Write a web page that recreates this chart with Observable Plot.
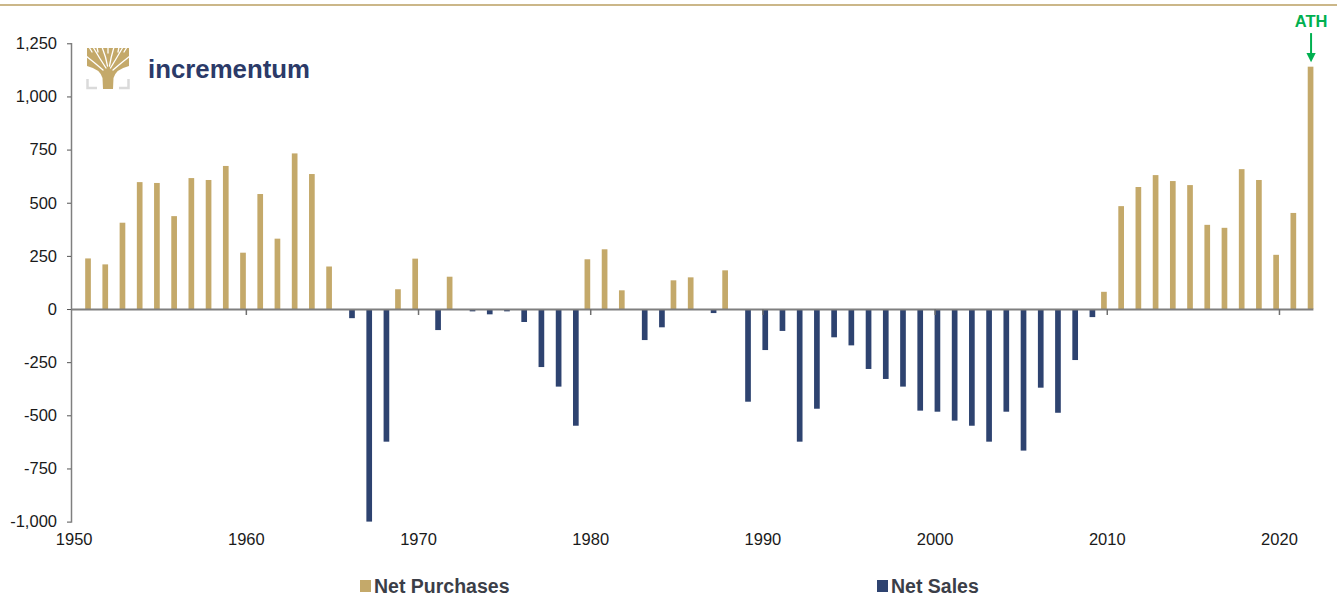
<!DOCTYPE html>
<html>
<head>
<meta charset="utf-8">
<script src="https://cdn.jsdelivr.net/npm/d3@7"></script>
<script src="https://cdn.jsdelivr.net/npm/@observablehq/plot@0.6"></script>
<style>
  html, body { margin: 0; padding: 0; background: #fff; }
  #wrap { position: relative; width: 1337px; height: 597px; overflow: hidden; font-family: "Liberation Sans", Arial, sans-serif; }
  #topline { position: absolute; left: 0; top: 4px; width: 1337px; height: 1.5px; background: #cbb789; }
  #chart { position: absolute; left: 0; top: 0; }
  #logo { position: absolute; left: 0; top: 0; }
  .leg { position: absolute; top: 575px; height: 22px; display: flex; align-items: center; font-weight: bold; font-size: 19.5px; color: #3b3e48; }
  .sw { width: 11px; height: 12px; margin-right: 3px; }
</style>
</head>
<body>
<div id="wrap">
  <div id="topline"></div>
  <div id="chart"></div>
  <svg id="logo" width="330" height="100">
    <path fill="#c4a96a" d="M87,48 L129,48 L129,66 Q116,69 113.5,78 L113,89 L103,89 L102.5,78 Q100,69 87,66 Z"/>
    <g fill="none" stroke="#fff" stroke-width="1.3" stroke-linecap="round">
      <path d="M106,68 Q100,59 93,47"/>
      <path d="M107.5,66 Q106,57 102,47"/>
      <path d="M109.5,66 Q111,57 114,47"/>
      <path d="M110.5,68 Q116,59 123,47"/>
      <path d="M103,70 Q95,63 86,56"/>
      <path d="M113,70 Q121,63 130,56"/>
      <path d="M89,47 L92,52"/>
      <path d="M97,47 L98,52"/>
      <path d="M108,47 L108,53"/>
      <path d="M119,47 L118,52"/>
      <path d="M127,47 L124,52"/>
    </g>
    <g fill="none" stroke="#dadada" stroke-width="2.5">
      <polyline points="87.5,79 87.5,88 97,88"/>
      <polyline points="128.5,79 128.5,88 119,88"/>
    </g>
    <text x="148" y="77.5" font-family="Liberation Sans, Arial, sans-serif" font-weight="bold" font-size="25" fill="#2b3a68" textLength="162" lengthAdjust="spacingAndGlyphs">incrementum</text>
  </svg>
  <div class="leg" style="left:360px;"><div class="sw" style="background:#c4a96a"></div>Net Purchases</div>
  <div class="leg" style="left:877px;"><div class="sw" style="background:#2e4370"></div>Net Sales</div>
</div>
<script>
// ---- data ----
const years = [1951,1952,1953,1954,1955,1956,1957,1958,1959,1960,
  1961,1962,1963,1964,1965,1966,1967,1968,1969,1970,
  1971,1972,1973,1974,1975,1976,1977,1978,1979,1980,
  1981,1982,1983,1984,1985,1986,1987,1988,1989,1990,
  1991,1992,1993,1994,1995,1996,1997,1998,1999,2000,
  2001,2002,2003,2004,2005,2006,2007,2008,2009,2010,
  2011,2012,2013,2014,2015,2016,2017,2018,2019,2020,
  2021,2022];
const netFlow = [238,210,406,597,593,437,616,607,673,265,
  541,331,732,635,200,-43,-1000,-624,93,237,
  -99,152,-11,-25,-11,-61,-273,-365,-549,234,
  281,88,-146,-86,135,149,-19,182,-436,-193,
  -103,-624,-469,-133,-171,-282,-329,-365,-478,-483,
  -525,-549,-624,-483,-666,-370,-488,-240,-38,81,
  484,574,630,602,583,396,382,658,607,255,
  452,1140];
const yTicks = [-1000,-750,-500,-250,0,250,500,750,1000,1250];
const xTicks = [1950,1960,1970,1980,1990,2000,2010,2020];
const seriesNames = ["Net Purchases","Net Sales"];
const seriesColors = ["#c4a96a","#2e4370"];
const annotationLabel = "ATH";
const annotationYear = 2022;

const rows = years.map((year, i) => ({year, value: netFlow[i]}));
const purchases = rows.filter(d => d.value > 0);
const sales = rows.filter(d => d.value < 0);
const ath = rows.filter(d => d.year === annotationYear);

const barW = 0.33;
const xStart = 1949.846;
const green = "#00b050";

const downTriangle = {
  draw(context, size) {
    const r = Math.sqrt(size / Math.PI);
    context.moveTo(-r, -r * 0.9);
    context.lineTo(r, -r * 0.9);
    context.lineTo(0, r * 1.1);
    context.closePath();
  }
};

const chart = Plot.plot({
  width: 1337,
  height: 560,
  marginLeft: 71,
  marginRight: 23.6,
  marginTop: 43.3,
  marginBottom: 38.4,
  x: {domain: [xStart, 2022]},
  y: {domain: [-1000, 1250]},
  style: {fontFamily: "'Liberation Sans', Arial, sans-serif", fontSize: "16.5px", color: "#1a1a1a", background: "transparent"},
  marks: [
    Plot.rect(purchases, {x1: d => d.year - barW, x2: d => d.year, y1: 0, y2: "value", fill: seriesColors[0]}),
    Plot.rect(sales, {x1: d => d.year, x2: d => d.year + barW, y1: 0, y2: "value", fill: seriesColors[1]}),
    Plot.ruleY([0], {stroke: "#7f7f7f", strokeWidth: 2}),
    Plot.ruleX(xTicks.slice(1), {x: d => d, y1: 0, y2: -28, stroke: "#6f6f6f", strokeWidth: 1.5}),
    Plot.frame({anchor: "left", stroke: "#7f7f7f", strokeWidth: 1.5}),
    Plot.axisY({ticks: yTicks, tickSize: 4, tickPadding: 10.5, tickFormat: d => d.toLocaleString("en-US"), label: null, stroke: "#555"}),
    Plot.axisX({ticks: xTicks, tickSize: 0, tickPadding: 11, tickFormat: d => String(d), label: null}),
    Plot.ruleX(ath, {x: d => d.year - barW / 2, y1: d => d.value + 158, y2: d => d.value + 55, stroke: green, strokeWidth: 2}),
    Plot.dot(ath, {x: d => d.year - barW / 2, y: "value", dy: -10, r: 4.6, symbol: downTriangle, fill: green, stroke: "none"}),
    Plot.text(ath, {x: d => d.year - barW / 2, y: "value", dy: -45.5, text: () => annotationLabel, fill: green, fontWeight: "bold", fontSize: 16.5})
  ]
});
document.getElementById("chart").appendChild(chart);
</script>
</body>
</html>
